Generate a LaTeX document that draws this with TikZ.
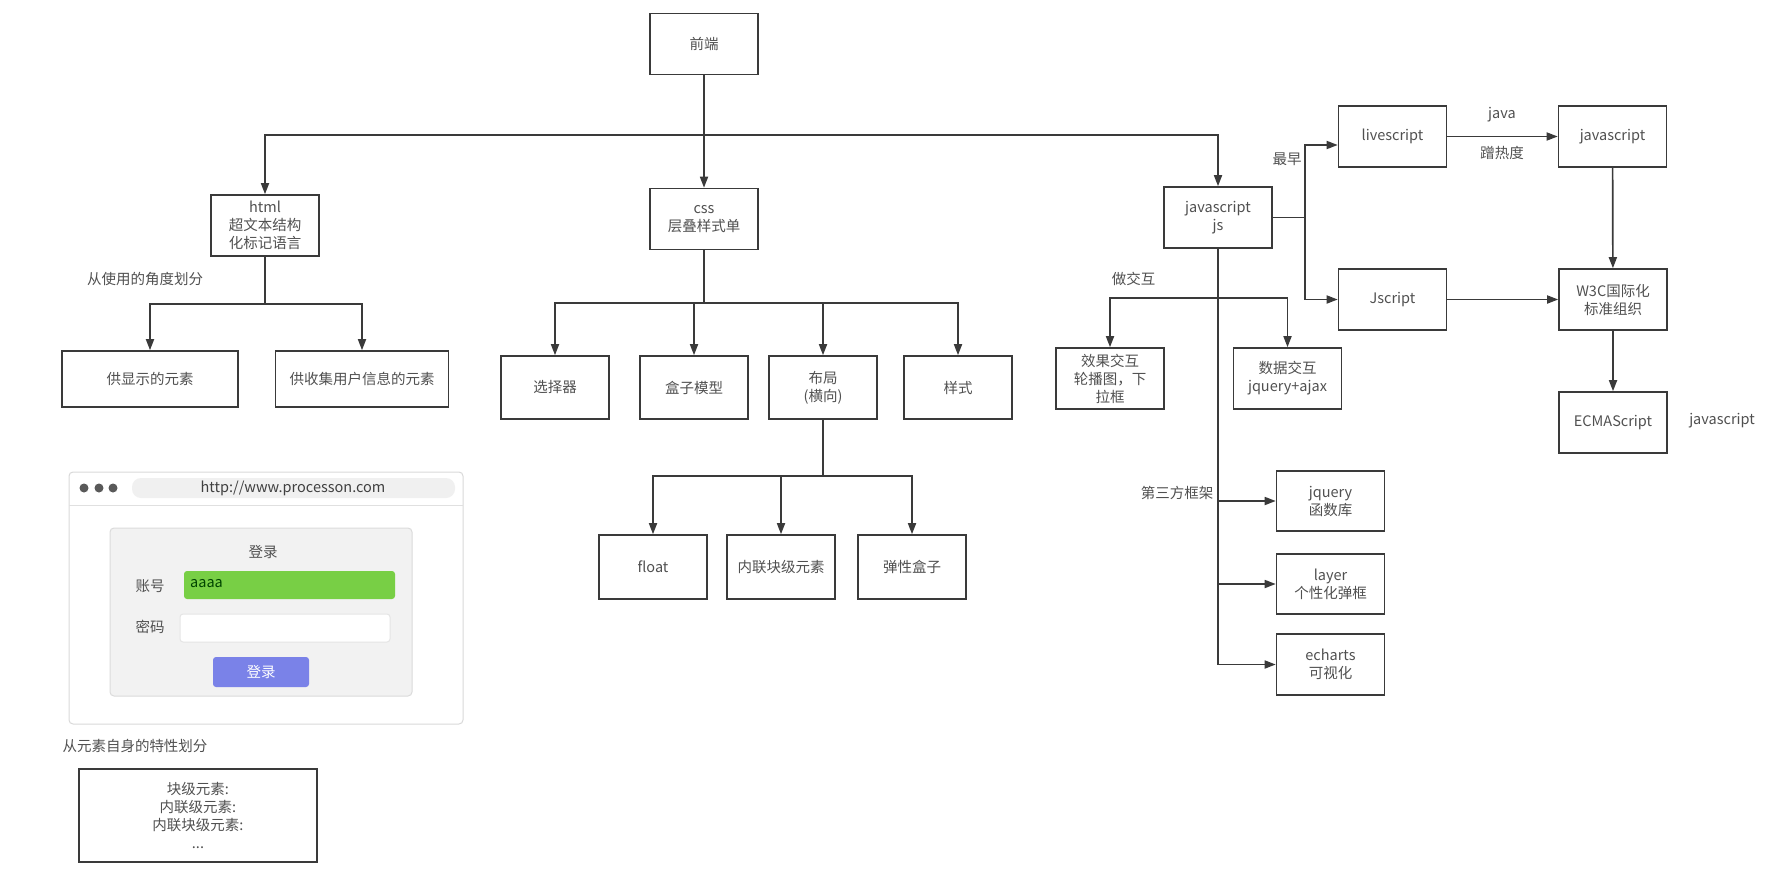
\documentclass[tikz,border=0pt]{standalone}
\usepackage{fontspec}
\setmainfont{Noto Sans CJK SC}
\usetikzlibrary{arrows.meta}
\tikzset{treetip/.tip={Triangle[length=11pt,width=8pt]}}
\newcommand{\TreeArrowType}{treetip}
\definecolor{linegray}{HTML}{3A3A3A}
\definecolor{textgray}{HTML}{505050}
\definecolor{fieldgreen}{HTML}{78CF45}
\definecolor{buttonblue}{HTML}{7A82E8}

\begin{document}
\begin{tikzpicture}[x=1pt,y=-1pt,>=\TreeArrowType,
	font=\fontsize{14.5pt}{18pt}\selectfont,
	box/.style={draw=linegray,line width=1.6pt,text=textgray,align=center,
		minimum width=108pt,minimum height=61pt,inner sep=2pt},
	link/.style={draw=linegray,line width=1.7pt},
	note/.style={text=textgray,inner sep=0pt}]
				\useasboundingbox (0,0) rectangle (1773,875);
				% main tree
				\node[box] (fe) at (704,44) {前端};
				\node[box] (html) at (265,225.5) {html\\超文本结构\\化标记语言};
				\node[box] (css) at (704,219) {css\\层叠样式单};
				\node[box] (js) at (1218,217.5) {javascript\\js};
				\coordinate (topbus) at (704,135);
				\draw[link,->] (fe) -- (css);
				\draw[link,->] (fe.south |- topbus) -| (html.north);
				\draw[link,->] (fe.south |- topbus) -| (js.north);
				% html
				\node[box,minimum width=176pt,minimum height=56pt] (disp) at (150,379) {供显示的元素};
				\node[box,minimum width=173pt,minimum height=56pt] (collect) at (362,379) {供收集用户信息的元素};
				\node[note] (uselabel) at (145,279) {从使用的角度划分};
				\coordinate (htmlbus) at (265,304);
				\draw[link] (html.south) -- (html.south |- htmlbus);
				\draw[link,->] (html.south |- htmlbus) -| (disp.north);
				\draw[link,->] (html.south |- htmlbus) -| (collect.north);
				% css
				\node[box,minimum height=63pt] (sel) at (555,387.5) {选择器};
				\node[box,minimum height=63pt] (boxm) at (694,387.5) {盒子模型};
				\node[box,minimum height=63pt] (layout) at (823,387.5) {布局\\(横向)};
				\node[box,minimum height=63pt] (sty) at (958,387.5) {样式};
				\coordinate (cssbus) at (704,303);
				\draw[link] (css.south) -- (css.south |- cssbus);
				\foreach \c in {sel,boxm,layout,sty}
					\draw[link,->] (css.south |- cssbus) -| (\c.north);
				\node[box,minimum height=64pt] (float) at (653,567) {float};
				\node[box,minimum height=64pt] (inlb) at (781,567) {内联块级元素};
				\node[box,minimum height=64pt] (flex) at (912,567) {弹性盒子};
				\coordinate (laybus) at (823,476);
				\draw[link] (layout.south) -- (layout.south |- laybus);
				\foreach \c in {float,inlb,flex}
					\draw[link,->] (layout.south |- laybus) -| (\c.north);
				% javascript
				\node[box] (live) at (1392.5,136.5) {livescript};
				\node[box] (jscr) at (1392.5,299.5) {Jscript};
				\node[box] (jsr) at (1612.5,136.5) {javascript};
				\node[box] (w3c) at (1613,299.5) {W3C国际化\\标准组织};
				\node[box] (ecma) at (1613,422.5) {ECMAScript};
				\node[note] (earliest) at (1287,159) {最早};
				\node[note] (java) at (1502,115) {java};
				\node[note] (hype) at (1502,153) {蹭热度};
				\node[note] (jsname) at (1722,421) {javascript};
				\coordinate (jsfork) at (1305,217.5);
				\draw[link] (js.east) -- (jsfork);
				\draw[link,->] (jsfork) |- ([yshift=-8.5pt]live.west);
				\draw[link,->] (jsfork) |- (jscr.west);
				\draw[link,->] (live) -- (jsr);
				\draw[link,->] (jsr) -- (w3c);
				\draw[link,->] (jscr) -- (w3c);
				\draw[link,->] (w3c) -- (ecma);
				\node[box] (effect) at (1110,378.5) {效果交互\\轮播图，下\\拉框};
				\node[box] (data) at (1287.5,378.5) {数据交互\\jquery+ajax};
				\node[note] (interact) at (1133.5,279) {做交互};
				\coordinate (actbus) at (1218,298);
				\draw[link,->] (actbus) -| (effect.north);
				\draw[link,->] (actbus) -| (data.north);
				\node[box,minimum height=60pt] (jquery) at (1330.5,501) {jquery\\函数库};
				\node[box,minimum height=60pt] (layer) at (1330.5,584) {layer\\个性化弹框};
				\node[box,minimum height=61pt] (echarts) at (1330.5,664.5) {echarts\\可视化};
				\node[note] (third) at (1177,493) {第三方框架};
				\draw[link,->] (js.south) |- (echarts.west);
				\draw[link,->] (js.south |- jquery.west) -- (jquery.west);
				\draw[link,->] (js.south |- layer.west) -- (layer.west);
				% login page picture
				\draw[black!15,fill=white,line width=1pt,rounded corners=4pt] (69,472) rectangle (463,724);
				\draw[black!12,line width=1pt] (69,505) -- (463,505);
				\fill[black!6,rounded corners=9pt] (132,478) rectangle (455,498);
				\foreach \x in {84,99,113}
					\fill[black!65] (\x,488) circle (4.5pt);
				\node[note,text=black!75] (url) at (293,488) {http://www.processon.com};
				\draw[black!14,fill=black!5,line width=1pt,rounded corners=4pt] (110,528) rectangle (412,696);
				\node[note] (logintitle) at (263,552) {登录};
				\node[note] (account) at (150,586) {账号};
				\fill[fieldgreen,rounded corners=3pt] (184,571) rectangle (395,599);
				\node[note,anchor=west,text=black!55!green!60!black] (aaaa) at (190,584) {aaaa};
				\node[note] (password) at (150,627) {密码};
				\draw[black!10,fill=white,line width=1pt,rounded corners=3pt] (180,614) rectangle (390,642);
				\fill[buttonblue,rounded corners=3pt] (213,657) rectangle (309,687);
				\node[note,text=white] (loginbtn) at (261,672) {登录};
				% element kinds
				\node[note] (selflabel) at (135,746) {从元素自身的特性划分};
				\node[box,minimum width=238pt,minimum height=93pt] (kinds) at (198,815.5) {块级元素:\\内联级元素:\\内联块级元素:\\...};
		\end{tikzpicture}
\end{document}
